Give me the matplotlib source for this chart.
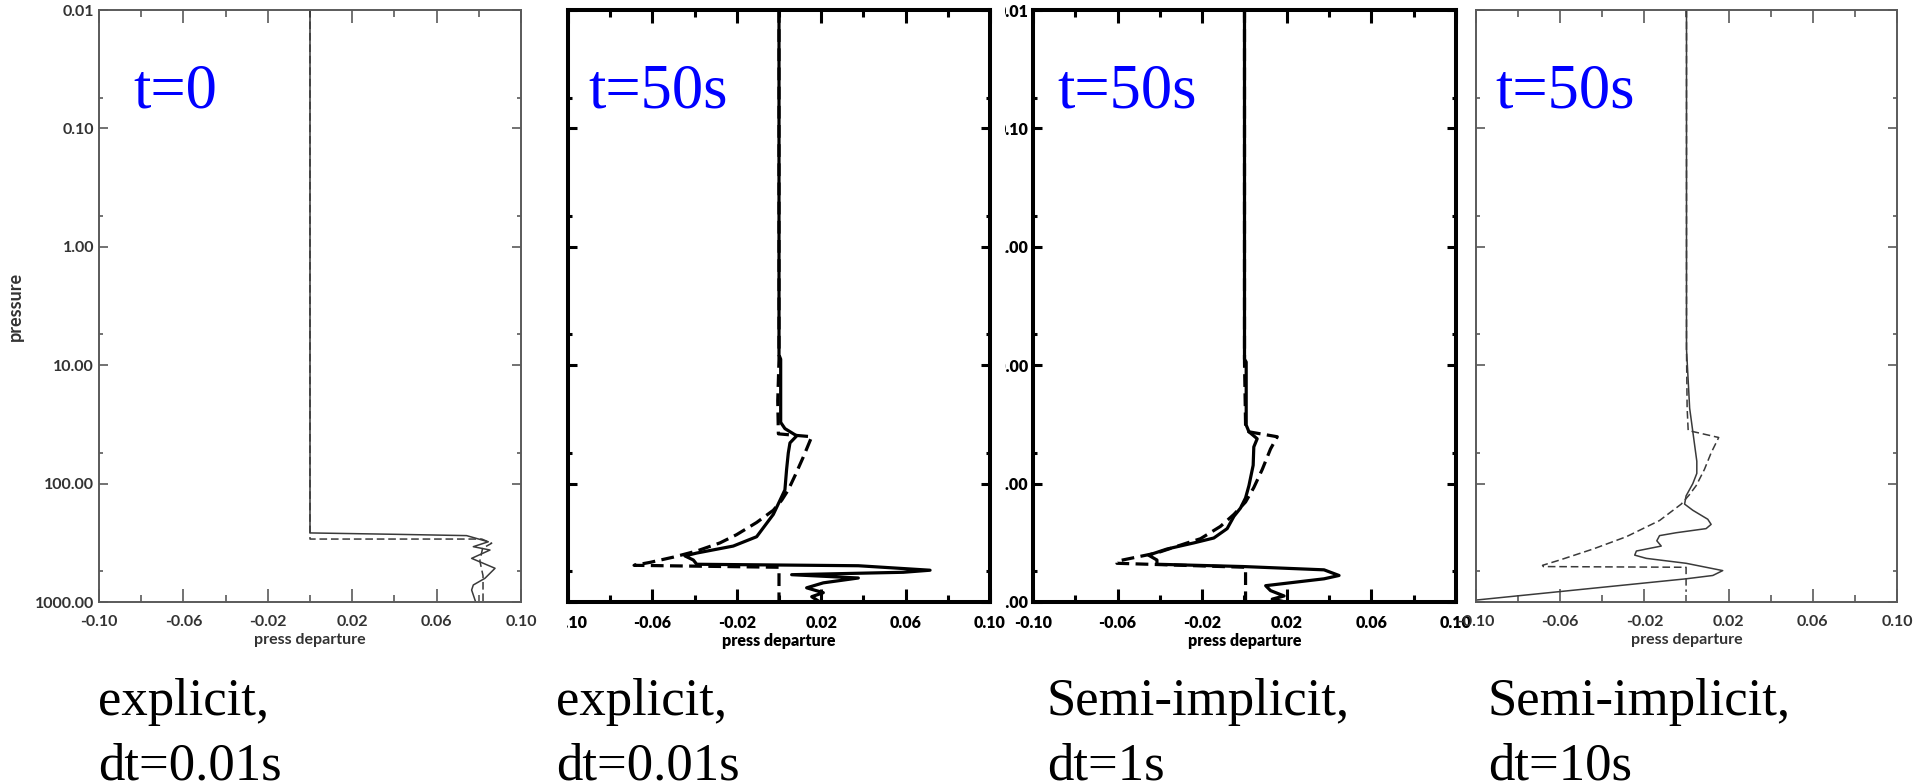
import matplotlib
matplotlib.use("Agg")
import matplotlib.pyplot as plt
from matplotlib.ticker import NullFormatter
from matplotlib.transforms import Bbox, TransformedBbox

# pressure departure profiles, x = departure, p = pressure level
p1_solid_x = [0, 0, 0.040, 0.0742, 0.0845, 0.0774, 0.0853, 0.0766, 0.0877, 0.0829, 0.0774, 0.0766, 0.0782, 0.0785]
p1_solid_p = [0.01, 261, 268, 275, 310, 341, 364, 428, 519, 631, 718, 792, 962, 1000]
p1_dash_x = [0, 0, 0.0814, 0.0861, 0.0818, 0.0805, 0.0820, 0.0820]
p1_dash_p = [0.01, 294, 294, 319, 352, 450, 600, 1000]

p2_solid_x = [0, 0, 0.0008, 0.0008, 0.0028, 0.0084, 0.0052, 0.0044, 0.0036, 0.0028, 0.0005, -0.0027,
              -0.0106, -0.0217, -0.0390, -0.0446, -0.0406, -0.0390, 0.0376, 0.0716, 0.0589, 0.0060,
              0.0376, 0.0210, 0.0131, 0.0210, 0.0155, 0.0194]
p2_solid_p = [0.01, 8.2, 8.9, 30.4, 34.3, 39.5, 45.3, 55.2, 75.9, 113, 138, 182,
              281, 337, 386, 408, 442, 480, 494, 539, 561, 588,
              627, 689, 759, 834, 902, 1000]
p2_dash_x = [0, 0, -0.0006, -0.0003, 0.0155, 0.0115, 0.0076, 0.0044, 0.0013, -0.0027, -0.0106,
             -0.0201, -0.0280, -0.0390, -0.0501, -0.0612, -0.0687, 0, 0]
p2_dash_p = [0.01, 9, 20, 38, 40.2, 59.7, 85.5, 113, 138, 168, 213,
             270, 317, 371, 418, 463, 490, 509, 1000]

p3_solid_x = [0, 0, 0.0008, 0.0008, 0.0021, 0.0060, 0.0044, 0.0041, 0.0021, 0.0005, -0.0019, -0.0050,
              -0.0082, -0.0145, -0.0240, -0.0367, -0.0454, -0.0414, -0.0414, -0.0003, 0.0376, 0.0447,
              0.0376, 0.0100, 0.0123, 0.0187, 0.0131, 0.0194]
p3_solid_p = [0.01, 8.9, 9.4, 32, 36.5, 41.8, 49, 70, 104, 132, 161, 189,
              240, 288, 317, 357, 402, 442, 480, 502, 535, 597,
              637, 728, 801, 889, 946, 1000]
p3_dash_x = [0, 0, 0.0005, 0.0020, 0.0155, 0.0123, 0.0084, 0.0044, 0.0005, -0.0050, -0.0114,
             -0.0208, -0.0271, -0.0414, -0.0603, -0.0603, 0.0005, 0.0005]
p3_dash_p = [0.01, 9.4, 32, 36.5, 40.2, 51, 75.9, 108, 143, 182, 230,
             292, 317, 385, 452, 471, 509, 1000]

p4_solid_x = [0, 0, 0.0015, 0.0049, 0.0049, 0.0030, -0.0002, -0.0009, 0.0030, 0.0101, 0.0117, 0.0093,
              -0.0049, -0.0128, -0.0141, -0.0120, -0.0238, -0.0246, -0.0191, -0.0002, 0.0172, 0.0125,
              -0.0002, -0.0997]
p4_solid_p = [0.01, 7.3, 23.1, 64.7, 82, 100, 127, 149, 168, 200, 221, 240,
              260, 275, 304, 337, 371, 402, 428, 471, 543, 597,
              637, 962]
p4_dash_x = [0, 0, 0.0003, 0.0008, 0.0153, 0.0117, 0.0085, 0.0046, 0.0014, -0.0025, -0.0128,
             -0.0286, -0.0444, -0.0602, -0.0684, -0.0680, -0.0002, -0.0002]
p4_dash_p = [0.01, 7.3, 23, 35.6, 40.8, 55, 76, 104, 124, 149, 205,
             281, 357, 442, 490, 502, 509, 820]

time_labels = ["t=0", "t=50s", "t=50s", "t=50s"]
scheme_labels = ["explicit,", "explicit,", "Semi-implicit,", "Semi-implicit,"]
dt_labels = ["dt=0.01s", "dt=0.01s", "dt=1s", "dt=10s"]

x_major = [-0.10, -0.06, -0.02, 0.02, 0.06, 0.10]
x_major_labels = ["-0.10", "-0.06", "-0.02", "0.02", "0.06", "0.10"]
x_minor = [-0.08, -0.04, 0.0, 0.04, 0.08]
y_major = [0.01, 0.1, 1, 10, 100, 1000]
y_major_labels = ["0.01", "0.10", "1.00", "10.00", "100.00", "1000.00"]
y_minor = [0.055, 0.55, 5.5, 55, 550]

W, H = 1915, 784
fig = plt.figure(figsize=(W / 100, H / 100), dpi=100)


def px_rect(left, right, top=10, bottom=602):
    return [left / W, 1 - bottom / H, (right - left) / W, (bottom - top) / H]


def px_clip(x0):
    return TransformedBbox(Bbox.from_extents(x0 / W, 0, 1, 1), fig.transFigure)


panels = [
    dict(rect=(99, 521), heavy=False, ylabels=True, tx=133, sx=98,
         solid=(p1_solid_x, p1_solid_p), dash=(p1_dash_x, p1_dash_p)),
    dict(rect=(568, 990), heavy=True, ylabels=False, tx=588, sx=556,
         solid=(p2_solid_x, p2_solid_p), dash=(p2_dash_x, p2_dash_p)),
    dict(rect=(1033, 1456), heavy=True, ylabels=True, tx=1057, sx=1047,
         solid=(p3_solid_x, p3_solid_p), dash=(p3_dash_x, p3_dash_p)),
    dict(rect=(1476, 1897), heavy=False, ylabels=False, tx=1495, sx=1488,
         solid=(p4_solid_x, p4_solid_p), dash=(p4_dash_x, p4_dash_p)),
]

for i, pn in enumerate(panels):
    ax = fig.add_axes(px_rect(*pn["rect"]))
    if pn["heavy"]:
        lc, sc, lw, sw, tw, weight = "black", "black", 2.3, 2.9, 2.2, "heavy"
        dashes = (4, 2)
    else:
        lc, sc, lw, sw, tw, weight = "#3a3a3a", "#5a5a5a", 1.1, 1.4, 1.2, "bold"
        dashes = (5, 2.5)

    ax.plot(pn["dash"][0], pn["dash"][1], color=lc, lw=lw, dashes=dashes)
    ax.plot(pn["solid"][0], pn["solid"][1], color=lc, lw=lw)

    ax.set_yscale("log")
    ax.set_ylim(1000, 0.01)
    ax.set_xlim(-0.1, 0.1)
    ax.set_xticks(x_major, x_major_labels)
    ax.set_xticks(x_minor, minor=True)
    ax.set_yticks(y_major, y_major_labels if pn["ylabels"] else [""] * len(y_major))
    ax.set_yticks(y_minor, minor=True)
    ax.yaxis.set_minor_formatter(NullFormatter())

    for s in ax.spines.values():
        s.set_linewidth(sw)
        s.set_color(sc)
    tcol = "black" if pn["heavy"] else "#333333"
    ax.tick_params(which="both", direction="in", top=True, right=True,
                   color=sc, width=tw, labelcolor=tcol)
    ax.tick_params(axis="x", which="major", length=9.4, pad=9, labelsize=11.5)
    ax.tick_params(axis="x", which="minor", length=5)
    ax.tick_params(axis="y", which="major", length=6.5, pad=3.5, labelsize=11.5)
    ax.tick_params(axis="y", which="minor", length=3)
    for lbl in ax.get_xticklabels() + ax.get_yticklabels():
        lbl.set_fontfamily("Lato")
        lbl.set_fontweight(weight)

    ax.set_xlabel("press departure", fontsize=11.5, fontfamily="Lato",
                  fontweight=weight, color=tcol)
    ax.xaxis.set_label_coords(0.5, -0.053)
    if i == 0:
        ax.set_ylabel("pressure", fontsize=13, fontfamily="Lato",
                      fontweight="bold", color=tcol)
        ax.yaxis.set_label_coords(-0.178, 0.5)

    # neighbouring panels overlap the cropped tick labels
    if i == 1:
        for lbl in ax.get_xticklabels():
            lbl.set_clip_box(px_clip(567))
            lbl.set_clip_on(True)
    if i == 2:
        for lbl in ax.get_yticklabels():
            lbl.set_clip_box(px_clip(1005))
            lbl.set_clip_on(True)

    fig.text(pn["tx"] / W, 1 - 107 / H, time_labels[i], color="blue",
             fontsize=45, fontfamily="Liberation Serif", va="baseline")
    fig.text(pn["sx"] / W, 1 - 715 / H, scheme_labels[i],
             fontsize=38, fontfamily="Liberation Serif", va="baseline")
    fig.text(pn["sx"] / W, 1 - 780 / H, dt_labels[i],
             fontsize=38, fontfamily="Liberation Serif", va="baseline")

fig.savefig("out.png", dpi=100, facecolor="white")
